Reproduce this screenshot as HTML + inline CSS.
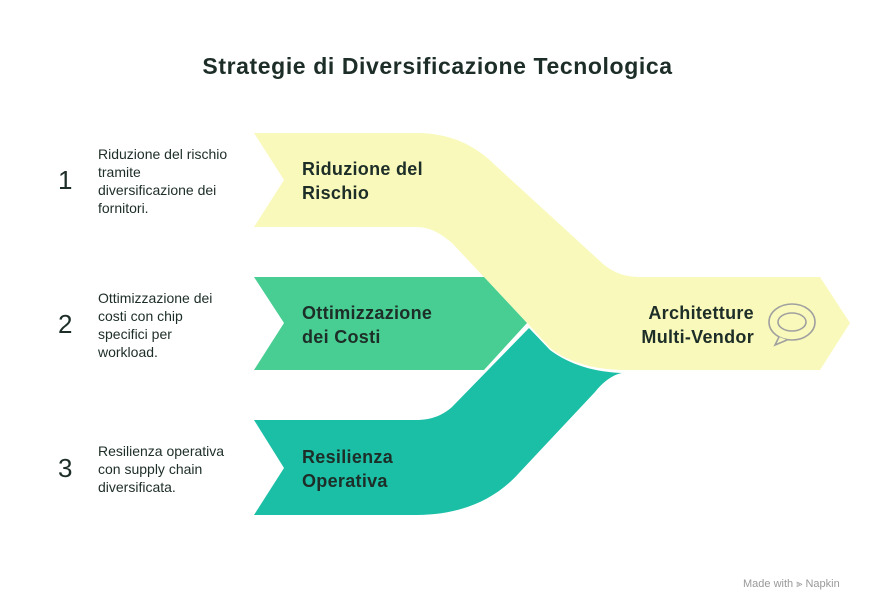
<!DOCTYPE html>
<html><head><meta charset="utf-8"><style>
body{margin:0;width:875px;height:612px;background:#fff;overflow:hidden;font-family:"Liberation Sans",sans-serif;color:#1d2d27}
.t{position:absolute}
</style></head><body>
<div class="t" style="left:0;width:875px;top:53px;text-align:center;font-size:23px;font-weight:bold;letter-spacing:0.6px">Strategie di Diversificazione Tecnologica</div>
<svg width="875" height="612" style="position:absolute;left:0;top:0">
<path d="M254,133 L416,133 C450,133 475,145 495,165 L602,263 C612,272 624,277 640,277 L820,277 L850,323 L820,370 L626,370 C590,370 565,360 550,348 L529,325 L452,243 C440,233 430,227 416,227 L254,227 L284,180 Z" fill="#f9f9bb"/>
<path d="M254,277 L484,277 L527,323 L484,370 L254,370 L284,323 Z" fill="#48ce93"/>
<path d="M529,328 L550,350 C570,365 595,372 622,373 C612,375 603,382 595,392 L519,473 C495,500 460,515 416,515 L254,515 L284,468 L254,420 L416,420 C432,420 443,415 452,407 Z" fill="#1bbfa6"/>
<g fill="none" stroke="#a0a0a0" stroke-width="1.6">
<ellipse cx="792" cy="322" rx="23" ry="18"/>
<ellipse cx="792" cy="322" rx="14" ry="9"/>
</g>
<path d="M779,337 L775,345 L787,340" fill="#f9f9bb" stroke="#a0a0a0" stroke-width="1.6"/>
</svg>
<div class="t" style="left:302px;top:157px;font-size:18px;font-weight:bold;line-height:24px;letter-spacing:0.3px">Riduzione del<br>Rischio</div>
<div class="t" style="left:302px;top:301px;font-size:18px;font-weight:bold;line-height:24px;letter-spacing:0.3px">Ottimizzazione<br>dei Costi</div>
<div class="t" style="left:302px;top:445px;font-size:18px;font-weight:bold;line-height:24px;letter-spacing:0.3px">Resilienza<br>Operativa</div>
<div class="t" style="left:580px;width:174px;text-align:right;top:301px;font-size:18px;font-weight:bold;line-height:24px;letter-spacing:0.3px">Architetture<br>Multi-Vendor</div>
<div class="t" style="left:58px;top:165px;font-size:26px">1</div>
<div class="t" style="left:58px;top:309px;font-size:26px">2</div>
<div class="t" style="left:58px;top:453px;font-size:26px">3</div>
<div class="t" style="left:98px;top:145px;font-size:14px;line-height:18px">Riduzione del rischio<br>tramite<br>diversificazione dei<br>fornitori.</div>
<div class="t" style="left:98px;top:289px;font-size:14px;line-height:18px">Ottimizzazione dei<br>costi con chip<br>specifici per<br>workload.</div>
<div class="t" style="left:98px;top:442px;font-size:14px;line-height:18px">Resilienza operativa<br>con supply chain<br>diversificata.</div>
<div class="t" style="left:743px;top:578px;font-size:11px;color:#999">Made with ⫸ Napkin</div>
</body></html>
